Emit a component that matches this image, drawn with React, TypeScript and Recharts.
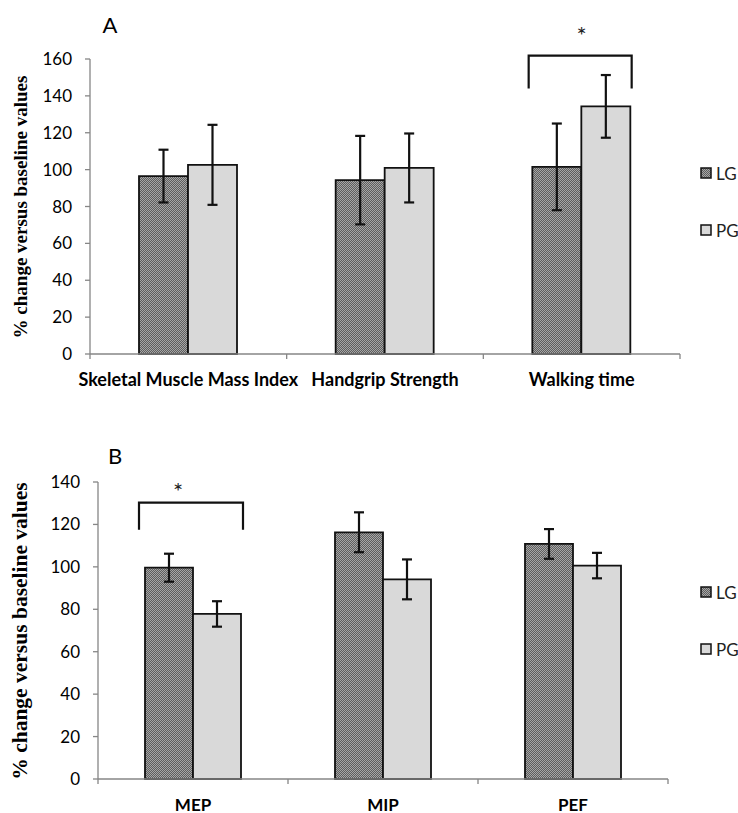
import React from 'react';
import { BarChart, Bar, XAxis, YAxis, ErrorBar, ReferenceLine, Legend } from 'recharts';

// ---------- Data: panel A ----------
const categoriesA = ['Skeletal Muscle Mass Index', 'Handgrip Strength', 'Walking time'];
const lgA = [96.5, 94.3, 101.5];
const lgErrA = [14.3, 24.0, 23.5];
const pgA = [102.6, 100.9, 134.3];
const pgErrA = [21.7, 18.7, 17.0];
const ticksA = [0, 20, 40, 60, 80, 100, 120, 140, 160];
const bracketA = { cat: 'Walking time', top: 161.8, foot: 144.0 };

// ---------- Data: panel B ----------
const categoriesB = ['MEP', 'MIP', 'PEF'];
const lgB = [99.6, 116.3, 110.8];
const lgErrB = [6.6, 9.4, 7.0];
const pgB = [77.8, 94.1, 100.6];
const pgErrB = [6.0, 9.4, 6.0];
const ticksB = [0, 20, 40, 60, 80, 100, 120, 140];
const bracketB = { cat: 'MEP', top: 130.3, foot: 117.5 };

const seriesNames = ['LG', 'PG'];
const yTitle = '% change versus baseline values';

const rowsA = categoriesA.map((c, i) => ({ cat: c, lg: lgA[i], lgErr: lgErrA[i], pg: pgA[i], pgErr: pgErrA[i] }));
const rowsB = categoriesB.map((c, i) => ({ cat: c, lg: lgB[i], lgErr: lgErrB[i], pg: pgB[i], pgErr: pgErrB[i] }));

const AXIS = '#868686';
const INK = '#111';
const PG_FILL = '#d9d9d9';
const FONT = 'Lato, "Open Sans", sans-serif';
const SERIF = '"Liberation Serif", "DejaVu Serif", serif';

function PatternDef({ id }: { id: string }) {
  return (
    <pattern id={id} patternUnits="userSpaceOnUse" width={2} height={2}>
      <rect x={0} y={0} width={2} height={2} fill="#5e5e5e" />
      <rect x={0} y={0} width={1} height={1} fill="#a6a6a6" />
      <rect x={1} y={1} width={1} height={1} fill="#a6a6a6" />
    </pattern>
  );
}

function makeXTick(lastCat: string, dy: number, fontSize: number) {
  return (props: any) => {
    const { x, y, payload } = props;
    const half = payload && typeof payload.offset === 'number' ? payload.offset : 96;
    return (
      <g>
        <line x1={x - half} x2={x - half} y1={y - 5} y2={y} stroke={AXIS} strokeWidth={1.3} />
        {payload.value === lastCat && (
          <line x1={x + half} x2={x + half} y1={y - 5} y2={y} stroke={AXIS} strokeWidth={1.3} />
        )}
        <text x={x} y={y} dy={dy} textAnchor="middle" fontFamily={FONT} fontWeight={700} fontSize={fontSize} fill="#000">
          {payload.value}
        </text>
      </g>
    );
  };
}

function makeBracket(left: number, right: number, starDx: number, starDy: number) {
  return (p: any) => {
    const cx = p.x1;
    const yTop = Math.min(p.y1, p.y2);
    const yFoot = Math.max(p.y1, p.y2);
    return (
      <g>
        <path
          d={`M${cx + left},${yFoot} L${cx + left},${yTop} L${cx + right},${yTop} L${cx + right},${yFoot}`}
          fill="none"
          stroke={INK}
          strokeWidth={2.2}
        />
        <text x={cx + starDx} y={yTop + starDy} textAnchor="middle" fontFamily={FONT} fontSize={24} fill="#222">
          *
        </text>
      </g>
    );
  };
}

function LegendContent({ patId }: { patId: string }) {
  const swatch = (fill: string) => (
    <svg width={12} height={12} style={{ display: 'block' }}>
      <rect x={1} y={1} width={10} height={10} fill={fill} stroke={INK} strokeWidth={1.5} />
    </svg>
  );
  const row = (name: string, fill: string) => (
    <div style={{ display: 'flex', alignItems: 'center', height: 20 }}>
      {swatch(fill)}
      <span style={{ marginLeft: 4, fontFamily: FONT, fontSize: 17, color: '#222' }}>{name}</span>
    </div>
  );
  return (
    <div>
      {row(seriesNames[0], `url(#${patId})`)}
      <div style={{ height: 37 }} />
      {row(seriesNames[1], PG_FILL)}
    </div>
  );
}

function Panel(props: {
  rows: any[];
  cats: string[];
  ticks: number[];
  max: number;
  height: number;
  margin: any;
  yWidth: number;
  xHeight: number;
  xDy: number;
  xFont: number;
  barSize: number;
  patId: string;
  bracket: { cat: string; top: number; foot: number };
  bracketShape: any;
  legendTop: number;
}) {
  const { rows, cats, ticks, max, height, margin, yWidth, xHeight, xDy, xFont, barSize, patId, bracket, bracketShape, legendTop } = props;
  return (
    <BarChart width={738} height={height} data={rows} margin={margin} barGap={0} barSize={barSize}>
      <defs>
        <PatternDef id={patId} />
      </defs>
      <XAxis
        dataKey="cat"
        height={xHeight}
        interval={0}
        tickSize={5}
        tickMargin={0}
        tickLine={false}
        axisLine={{ stroke: AXIS, strokeWidth: 1.3 }}
        tick={makeXTick(cats[cats.length - 1], xDy, xFont)}
      />
      <YAxis
        width={yWidth}
        domain={[0, max]}
        ticks={ticks}
        interval={0}
        tickSize={5}
        tickMargin={13}
        axisLine={{ stroke: AXIS, strokeWidth: 1.3 }}
        tickLine={{ stroke: AXIS, strokeWidth: 1.3 }}
        tick={{ fill: '#000', fontSize: 17, fontFamily: FONT }}
      />
      <Legend
        layout="horizontal"
        align="center"
        verticalAlign="middle"
        content={() => <LegendContent patId={patId} />}
        wrapperStyle={{ left: 700, top: legendTop, width: 40, height: 80 }}
      />
      <Bar dataKey="lg" name={seriesNames[0]} fill={`url(#${patId})`} stroke={INK} strokeWidth={1.8} isAnimationActive={false}>
        <ErrorBar dataKey="lgErr" width={5} stroke={INK} strokeWidth={2.2} direction="y" />
      </Bar>
      <Bar dataKey="pg" name={seriesNames[1]} fill={PG_FILL} stroke={INK} strokeWidth={1.8} isAnimationActive={false}>
        <ErrorBar dataKey="pgErr" width={5} stroke={INK} strokeWidth={2.2} direction="y" />
      </Bar>
      <ReferenceLine
        ifOverflow="visible"
        segment={[
          { x: bracket.cat, y: bracket.top },
          { x: bracket.cat, y: bracket.foot },
        ]}
        shape={bracketShape}
      />
    </BarChart>
  );
}

export default function App() {
  return (
    <div style={{ position: 'absolute', left: 0, top: 0, width: 738, height: 813, background: '#fff' }}>
      <div style={{ position: 'absolute', left: 0, top: 0 }}>
        <Panel
          rows={rowsA}
          cats={categoriesA}
          ticks={ticksA}
          max={160}
          height={400}
          margin={{ top: 59, right: 58, bottom: 16, left: 0 }}
          yWidth={90}
          xHeight={30}
          xDy={26.5}
          xFont={18}
          barSize={49}
          patId="lgPatA"
          bracket={bracketA}
          bracketShape={makeBracket(-53, 50, 0, -12)}
          legendTop={163}
        />
      </div>
      <div style={{ position: 'absolute', left: 0, top: 400 }}>
        <Panel
          rows={rowsB}
          cats={categoriesB}
          ticks={ticksB}
          max={140}
          height={413}
          margin={{ top: 82, right: 70, bottom: 0, left: 0 }}
          yWidth={98}
          xHeight={34}
          xDy={26.5}
          xFont={17}
          barSize={48}
          patId="lgPatB"
          bracket={bracketB}
          bracketShape={makeBracket(-54, 50, -15, -3)}
          legendTop={182}
        />
      </div>
      <svg width={738} height={813} style={{ position: 'absolute', left: 0, top: 0, pointerEvents: 'none' }}>
        <text x={110} y={33} textAnchor="middle" fontFamily={FONT} fontSize={22} fill="#000">A</text>
        <text x={115} y={464} textAnchor="middle" fontFamily={FONT} fontSize={22} fill="#000">B</text>
        <text
          x={20}
          y={207}
          transform="rotate(-90 20 207)"
          textAnchor="middle"
          dominantBaseline="central"
          fontFamily={SERIF}
          fontWeight={700}
          fontSize={19}
          fill="#000"
        >
          {yTitle}
        </text>
        <text
          x={20}
          y={631}
          transform="rotate(-90 20 631)"
          textAnchor="middle"
          dominantBaseline="central"
          fontFamily={SERIF}
          fontWeight={700}
          fontSize={21.5}
          fill="#000"
        >
          {yTitle}
        </text>
      </svg>
    </div>
  );
}
